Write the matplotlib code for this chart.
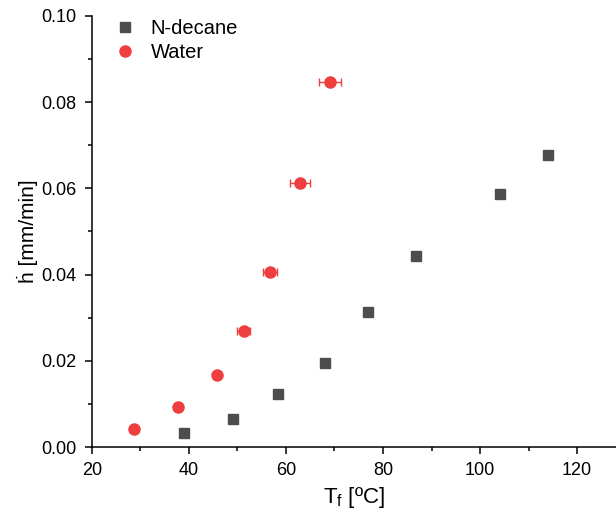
import matplotlib.pyplot as plt
from matplotlib.ticker import MultipleLocator

plt.rcParams['font.family'] = ['Liberation Sans', 'DejaVu Sans']

# Dane
decane_T = [39.0, 49.1, 58.4, 68.1, 76.9, 86.8, 104.1, 114.0]
decane_h = [0.0033, 0.0064, 0.0124, 0.0194, 0.0314, 0.0442, 0.0588, 0.0678]

water_T = [28.7, 37.7, 45.9, 51.3, 56.8, 62.9, 69.1]
water_h = [0.0041, 0.0092, 0.0166, 0.0268, 0.0405, 0.0613, 0.0847]
water_T_err = [0.4, 0.5, 0.6, 1.3, 1.45, 2.0, 2.3]

red = '#ef3e3e'
grey = '#4d4d4d'

fig = plt.figure(figsize=(6.16, 5.15), dpi=100)
ax = fig.add_axes([0.149, 0.132, 0.851, 0.837])

# Słupki błędów dla wody (bez etykiety)
ax.errorbar(water_T, water_h, xerr=water_T_err, fmt='none', ecolor=red,
            elinewidth=1, capsize=3, capthick=1)

ax.plot(decane_T, decane_h, 's', color=grey, markersize=6.5,
        linestyle='none', label='N-decane')
ax.plot(water_T, water_h, 'o', color=red, markersize=8,
        linestyle='none', label='Water')

ax.set_xlim(20, 128)
ax.set_ylim(0, 0.10)
ax.xaxis.set_major_locator(MultipleLocator(20))
ax.xaxis.set_minor_locator(MultipleLocator(10))
ax.yaxis.set_major_locator(MultipleLocator(0.02))
ax.yaxis.set_minor_locator(MultipleLocator(0.01))
ax.yaxis.set_major_formatter(plt.FormatStrFormatter('%.2f'))

ax.spines['top'].set_visible(False)
ax.spines['right'].set_visible(False)
for s in ['left', 'bottom']:
    ax.spines[s].set_linewidth(1.1)
ax.tick_params(which='major', direction='out', length=5, width=1.1,
               labelsize=13, pad=6)
ax.tick_params(which='minor', direction='out', length=3, width=1.1)

ax.set_xlabel('T$_\\mathregular{f}$ [ºC]', fontsize=16, labelpad=4)
ax.set_ylabel('ḣ [mm/min]', fontsize=15, labelpad=2)

ax.legend(loc='upper left', bbox_to_anchor=(0.005, 1.035), frameon=False,
          fontsize=14.5, handletextpad=0.7, labelspacing=0.25,
          handlelength=1.2)

plt.savefig('out.png', dpi=100)
